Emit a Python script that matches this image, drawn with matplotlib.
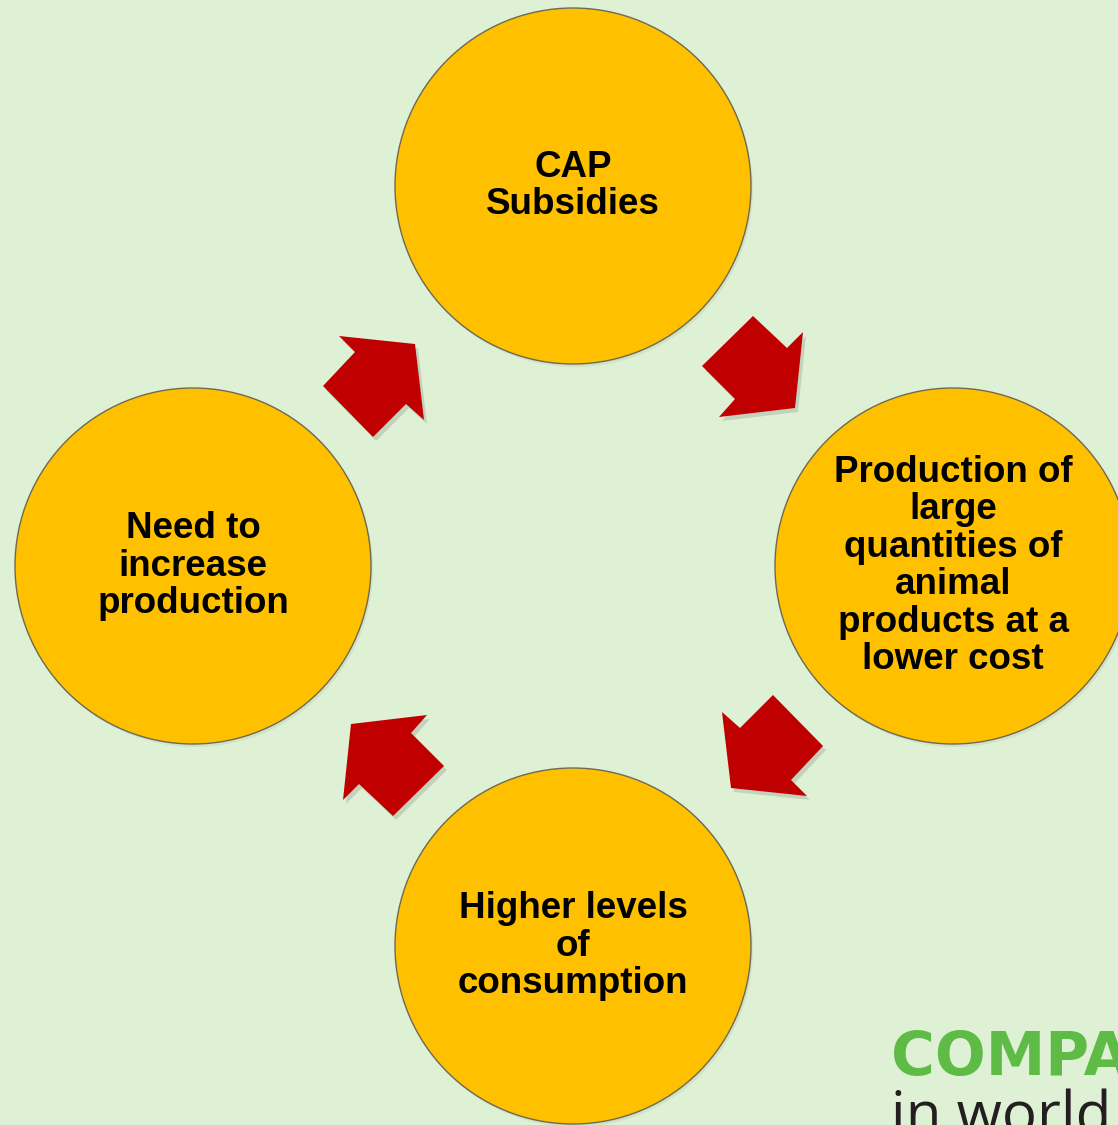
import numpy as np
import matplotlib
matplotlib.use("Agg")
import matplotlib.pyplot as plt
from matplotlib.patches import Circle, Polygon

# cycle steps, clockwise from the top
labels = [
	"CAP\nSubsidies",
	"Production of\nlarge\nquantities of\nanimal\nproducts at a\nlower cost",
	"Higher levels\nof\nconsumption",
	"Need to\nincrease\nproduction",
]
angles = [90, 0, -90, 180]  # degrees, where each step sits on the ring

bg_color = "#DFF1D5"
circle_color = "#FFC000"
arrow_color = "#C00000"

# arrow outline in pixels, relative to the cycle centre (top-right arrow)
arrow_shape = np.array([
	[180, -250], [214, -218], [230, -234], [222, -158],
	[146, -149], [162, -167], [129, -200],
])

W, H = 1118, 1125
cx, cy = 573, 566
ring = 380
radius = 178

fig = plt.figure(figsize=(W / 100, H / 100), dpi=100)
fig.patch.set_facecolor(bg_color)
ax = fig.add_axes([0, 0, 1, 1])
ax.set_xlim(0, W)
ax.set_ylim(H, 0)
ax.set_aspect("equal")
ax.axis("off")

for lab, ang in zip(labels, angles):
	x = cx + ring * np.cos(np.radians(ang))
	y = cy - ring * np.sin(np.radians(ang))
	ax.add_patch(Circle((x + 2, y + 3), radius, facecolor="#000000", alpha=0.06, edgecolor="none", zorder=1))
	ax.add_patch(Circle((x, y), radius, facecolor=circle_color, edgecolor="#6E6A50", lw=1.0, zorder=2))
	ax.text(x, y, lab, ha="center", va="center", fontsize=26.5, fontweight="bold",
		family="Liberation Sans", color="black", linespacing=1.09, zorder=3)

# four arrows, each a quarter turn from the last (image y points down)
for k in range(4):
	pts = arrow_shape.copy()
	for _ in range(k):
		pts = np.column_stack([-pts[:, 1], pts[:, 0]])
	pts = pts + [cx, cy]
	ax.add_patch(Polygon(pts + [3, 4], closed=True, facecolor="#000000", alpha=0.12, edgecolor="none", zorder=1))
	ax.add_patch(Polygon(pts, closed=True, facecolor=arrow_color, edgecolor="none", zorder=2))

# logo in the corner, cut off by the edge like the original
ax.text(891, 1075, "COMPA", fontsize=43, fontweight="bold", family="DejaVu Sans",
	color="#5DBB46", ha="left", va="baseline", zorder=3)
ax.text(891, 1134, "in world", fontsize=42, family="Open Sans",
	color="#231F20", ha="left", va="baseline", zorder=3)

fig.savefig("out.png", dpi=100, facecolor=bg_color)
